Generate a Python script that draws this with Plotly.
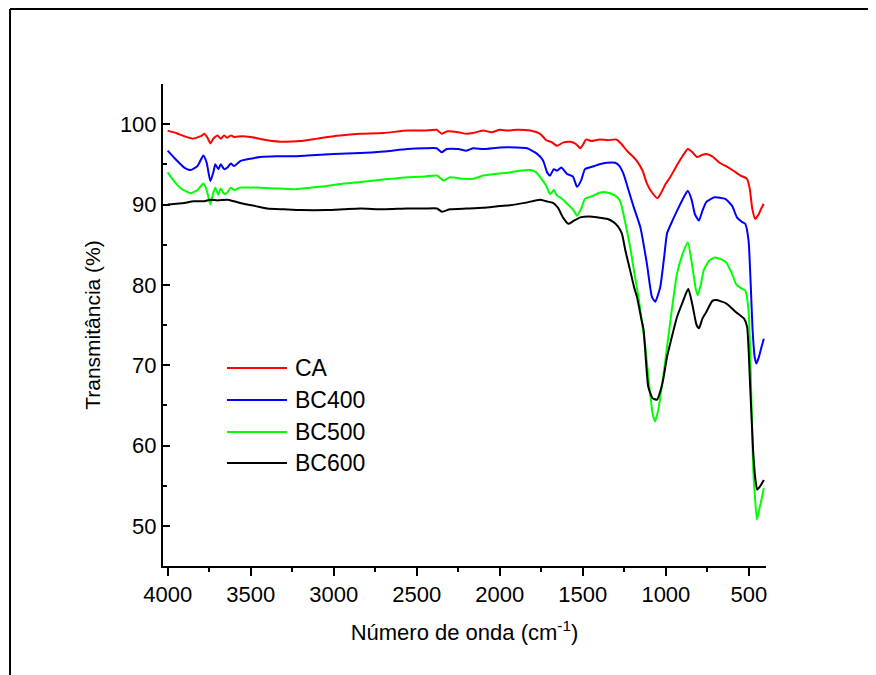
import plotly.graph_objects as go

# FTIR spectra, wavenumber (cm-1) vs transmittance (%)
wn_ca = [4000, 3950, 3900, 3850, 3800, 3780, 3760, 3743, 3725, 3700, 3680, 3660, 3640, 3620,
         3600, 3550, 3500, 3400, 3300, 3200, 3100, 3000, 2900, 2840, 2700, 2557, 2450, 2380,
         2350, 2320, 2250, 2200, 2160, 2100, 2050, 2000, 1955, 1900, 1817, 1757, 1720, 1690,
         1655, 1620, 1575, 1540, 1515, 1495, 1480, 1450, 1400, 1350, 1300, 1270, 1235, 1200,
         1174, 1140, 1114, 1080, 1050, 1030, 1000, 974, 930, 900, 868, 840, 813, 780, 757,
         720, 677, 640, 593, 550, 512, 495, 480, 462, 441, 430, 411]
t_ca = [99.2, 98.9, 98.5, 98.2, 98.5, 98.8, 98.3, 97.6, 98.2, 98.6, 98.2, 98.6, 98.3, 98.6,
        98.4, 98.5, 98.4, 98.0, 97.8, 97.9, 98.2, 98.5, 98.7, 98.8, 98.9, 99.2, 99.2, 99.3,
        98.8, 99.1, 99.0, 98.8, 98.9, 99.2, 99.0, 99.3, 99.2, 99.3, 99.2, 98.8, 98.0, 97.8,
        97.3, 97.7, 97.8, 97.5, 97.0, 97.6, 98.1, 97.9, 98.1, 98.0, 98.1, 97.6, 96.7, 96.0,
        95.4, 94.2, 92.6, 91.4, 90.8, 91.4, 92.6, 93.4, 95.0, 96.0, 96.9, 96.5, 95.9, 96.2, 96.3,
        96.0, 95.2, 94.8, 94.2, 93.6, 93.2, 92.0, 89.5, 88.2, 88.8, 89.3, 90.1]

wn_400 = [4000, 3960, 3900, 3862, 3820, 3785, 3765, 3743, 3725, 3713, 3695, 3680, 3660, 3640,
          3620, 3600, 3563, 3500, 3442, 3350, 3250, 3160, 3000, 2840, 2700, 2557, 2450, 2380,
          2350, 2320, 2250, 2200, 2160, 2100, 1997, 1900, 1835, 1775, 1740, 1715, 1697, 1675,
          1655, 1630, 1595, 1560, 1535, 1510, 1487, 1460, 1430, 1400, 1355, 1305, 1280, 1255,
          1225, 1194, 1154, 1114, 1084, 1064, 1034, 1010, 993, 960, 933, 900, 868, 845, 825,
          801, 780, 757, 707, 642, 600, 572, 540, 522, 502, 490, 478, 465, 455, 440, 425, 410]
t_400 = [96.7, 95.8, 94.6, 94.3, 94.8, 96.1, 95.2, 92.9, 94.0, 95.0, 94.4, 95.0, 94.4, 94.6,
         95.1, 94.8, 95.4, 95.7, 95.9, 96.0, 96.0, 96.1, 96.3, 96.4, 96.6, 96.9, 97.0, 97.0,
         96.5, 96.9, 96.9, 96.7, 97.0, 96.9, 97.1, 97.1, 97.0, 96.3, 95.5, 94.0, 93.6, 94.4,
         94.2, 94.6, 93.8, 93.5, 92.2, 93.0, 94.4, 94.6, 94.8, 95.0, 95.2, 95.2, 94.8, 93.8,
         91.8, 89.7, 87.2, 82.6, 78.5, 77.9, 79.7, 83.5, 86.4, 88.0, 89.2, 90.6, 91.7, 90.6, 88.8,
         88.0, 89.2, 90.3, 90.9, 90.7, 89.8, 88.4, 87.8, 87.6, 85.5, 80.5, 74.5, 71.0, 70.2, 71.0,
         72.2, 73.3]

wn_500 = [4000, 3965, 3920, 3862, 3820, 3785, 3765, 3743, 3725, 3713, 3695, 3680, 3660, 3640,
          3620, 3600, 3563, 3500, 3442, 3350, 3241, 3140, 3040, 2940, 2840, 2700, 2557, 2450,
          2378, 2340, 2300, 2220, 2160, 2100, 2030, 1938, 1880, 1817, 1780, 1757, 1720, 1697,
          1675, 1655, 1630, 1595, 1560, 1535, 1510, 1487, 1450, 1395, 1355, 1305, 1280, 1265,
          1240, 1215, 1190, 1165, 1145, 1124, 1100, 1080, 1065, 1045, 1020, 1005, 993, 960, 933,
          900, 868, 840, 820, 808, 790, 772, 740, 707, 670, 637, 600, 577, 540, 522, 502, 490,
          475, 465, 452, 440, 425, 410]
t_500 = [94.0, 93.0, 92.0, 91.4, 91.8, 92.6, 91.8, 90.0, 91.5, 92.1, 91.2, 92.0, 91.3, 91.5,
         92.1, 91.8, 92.1, 92.1, 92.1, 92.0, 91.9, 92.1, 92.3, 92.6, 92.8, 93.1, 93.4, 93.5,
         93.6, 93.0, 93.4, 93.2, 93.2, 93.6, 93.8, 94.0, 94.2, 94.3, 94.0, 93.4, 92.3, 91.3,
         91.8, 91.1, 90.8, 90.1, 89.4, 88.6, 89.5, 90.7, 91.0, 91.5, 91.5, 91.1, 90.6, 89.7,
         87.3, 84.7, 81.5, 78.5, 75.5, 72.3, 67.5, 64.0, 63.0, 64.5, 68.0, 70.3, 72.3, 77.5, 81.4,
         83.8, 85.3, 82.2, 79.5, 78.7, 80.0, 81.8, 83.0, 83.4, 83.2, 82.8, 81.3, 80.1, 79.5, 79.3,
         76.8, 70.0, 57.5, 54.0, 50.8, 51.8, 53.2, 54.7]

wn_600 = [4000, 3900, 3844, 3780, 3743, 3700, 3640, 3600, 3544, 3470, 3400, 3300, 3200, 3040,
          2940, 2840, 2700, 2557, 2450, 2378, 2348, 2300, 2200, 2100, 2000, 1938, 1850, 1757,
          1720, 1680, 1650, 1620, 1587, 1560, 1515, 1460, 1414, 1350, 1315, 1290, 1265, 1243,
          1215, 1190, 1174, 1150, 1134, 1106, 1080, 1053, 1030, 1016, 993, 970, 933, 900, 865,
          840, 815, 800, 780, 757, 720, 697, 637, 577, 529, 511, 493, 475, 462, 450, 430, 410]
t_600 = [90.0, 90.2, 90.4, 90.4, 90.6, 90.5, 90.6, 90.4, 90.1, 89.8, 89.5, 89.4, 89.3, 89.3,
         89.4, 89.5, 89.4, 89.5, 89.5, 89.5, 89.1, 89.4, 89.5, 89.6, 89.8, 89.9, 90.2, 90.6,
         90.4, 90.2, 89.6, 88.4, 87.6, 87.9, 88.4, 88.5, 88.4, 88.2, 87.8, 87.3, 86.4, 84.2,
         81.8, 79.6, 78.5, 76.0, 74.4, 67.3, 65.9, 65.7, 67.0, 68.2, 71.0, 73.0, 76.0, 77.8, 79.5,
         77.5, 75.0, 74.6, 75.8, 76.6, 78.0, 78.1, 77.7, 76.6, 75.8, 74.8, 67.7, 59.5, 56.0, 54.5,
         55.0, 55.7]

names = ["CA", "BC400", "BC500", "BC600"]
colors = ["#FF0000", "#0000FF", "#00FF00", "#000000"]
xs = [wn_ca, wn_400, wn_500, wn_600]
ys = [t_ca, t_400, t_500, t_600]

FONT = "Arial, Liberation Sans, sans-serif"

fig = go.Figure()
for name, col, x, y in zip(names, colors, xs, ys):
    fig.add_trace(go.Scatter(x=x, y=y, mode="lines", name=name,
                             line=dict(color=col, width=2, shape="spline", smoothing=0.5)))

# hand drawn legend (long line samples like the original)
leg_y = [0.4108, 0.3444, 0.278, 0.2137]
for name, col, yy in zip(names, colors, leg_y):
    fig.add_shape(type="line", xref="paper", yref="paper", x0=0.1061, x1=0.2056,
                  y0=yy, y1=yy, line=dict(color=col, width=2))
    fig.add_annotation(xref="paper", yref="paper", x=0.2156, y=yy, text=name,
                       showarrow=False, xanchor="left", yanchor="middle",
                       font=dict(family=FONT, size=23, color="black"))

# outer frame of the picture
fig.add_shape(type="line", xref="paper", yref="paper", x0=-0.2537, x1=-0.2537,
              y0=-0.3, y1=1.1556, line=dict(color="black", width=2))
fig.add_shape(type="line", xref="paper", yref="paper", x0=-0.2537, x1=1.3,
              y0=1.1556, y1=1.1556, line=dict(color="black", width=2))

# page body has an 8px margin, so the figure is drawn 8px smaller / shifted
fig.update_layout(
    width=868, height=667,
    margin=dict(l=155, r=110, t=76, b=109, autoexpand=False),
    paper_bgcolor="white", plot_bgcolor="white",
    showlegend=False,
    font=dict(family=FONT, size=21, color="black"),
)
fig.update_xaxes(
    range=[4028, 397], showline=True, linecolor="black", linewidth=2,
    showgrid=False, zeroline=False, ticks="outside", ticklen=8, tickwidth=2,
    tickcolor="black", tickmode="linear", tick0=500, dtick=500,
    minor=dict(ticks="outside", ticklen=4, tickwidth=2, tickcolor="black", dtick=250),
    tickfont=dict(family=FONT, size=22), automargin=False,
    title=dict(text="Número de onda (cm<sup>-1</sup>)", standoff=18,
               font=dict(family=FONT, size=22)),
)
fig.update_yaxes(
    range=[45, 105], showline=True, linecolor="black", linewidth=2,
    showgrid=False, zeroline=False, ticks="inside", ticklen=7, tickwidth=2,
    tickcolor="black", tickmode="linear", tick0=50, dtick=10,
    minor=dict(ticks="inside", ticklen=4, tickwidth=2, tickcolor="black", dtick=5),
    tickfont=dict(family=FONT, size=22), automargin=False,
    title=dict(text="Transmitância (%)", standoff=14,
               font=dict(family=FONT, size=21)),
)

fig.write_html("out.html")
